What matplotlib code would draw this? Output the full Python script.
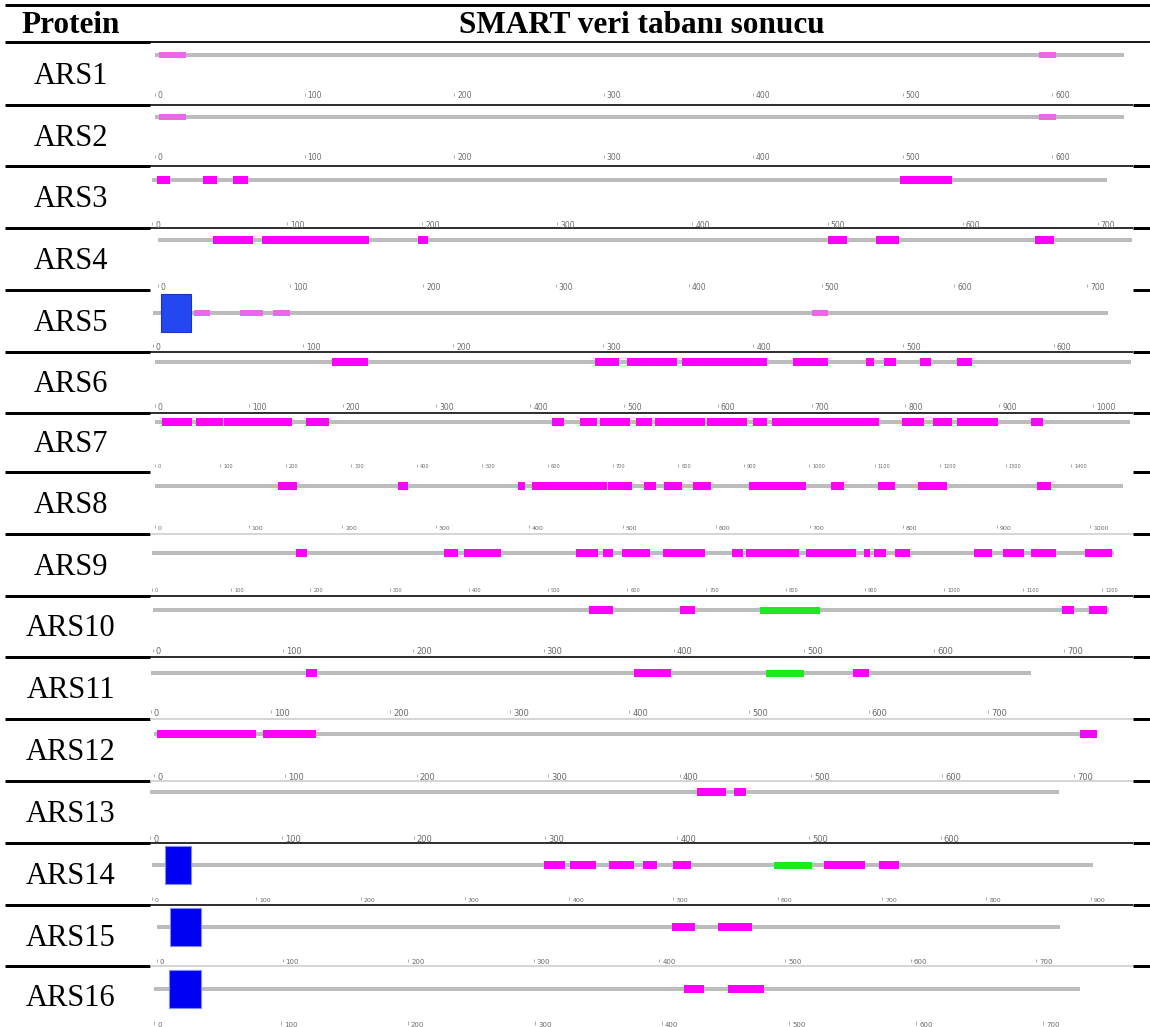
import matplotlib.pyplot as plt
from matplotlib.patches import Rectangle

# SMART domain results for the ARS proteins
proteins = ["ARS1", "ARS2", "ARS3", "ARS4", "ARS5", "ARS6", "ARS7", "ARS8",
            "ARS9", "ARS10", "ARS11", "ARS12", "ARS13", "ARS14", "ARS15", "ARS16"]

# protein length (aa)
lengths = [648, 648, 707, 734, 636, 1041, 1490, 1035,
           1215, 734, 736, 718, 690, 902, 719, 729]

# low complexity regions (start, end) in residues
low_complexity = [
    [(3, 21), (591, 603)],
    [(3, 21), (591, 603)],
    [(4, 13), (38, 48), (60, 71), (554, 592)],
    [(42, 72), (79, 159), (196, 204), (505, 519), (541, 558), (661, 675)],
    [(27, 38), (58, 73), (80, 91), (439, 450)],
    [(189, 227), (469, 495), (503, 556), (562, 652), (680, 717), (758, 767),
     (777, 790), (816, 827), (855, 871)],
    [(11, 57), (63, 104), (105, 209), (231, 266), (607, 625), (650, 676),
     (680, 726), (735, 760), (764, 841), (844, 905), (914, 935), (943, 1107),
     (1142, 1175), (1189, 1218), (1226, 1288), (1339, 1357)],
    [(132, 152), (260, 271), (388, 396), (403, 483), (485, 510), (523, 536),
     (544, 564), (575, 595), (635, 696), (723, 737), (773, 791), (816, 847),
     (943, 958)],
    [(182, 196), (369, 386), (394, 441), (535, 563), (569, 582), (593, 629),
     (645, 698), (732, 746), (750, 817), (826, 889), (899, 907), (912, 927),
     (938, 957), (1038, 1061), (1074, 1101), (1110, 1141), (1178, 1212)],
    [(335, 353), (405, 416), (698, 707), (719, 733)],
    [(130, 139), (404, 435), (587, 600)],
    [(2, 78), (83, 123), (705, 718)],
    [(415, 437), (443, 452)],
    [(376, 396), (401, 426), (438, 462), (471, 484), (500, 517), (644, 684),
     (697, 716)],
    [(410, 428), (447, 474)],
    [(417, 433), (452, 480)],
]

# coiled coil regions
coiled_coil = [[], [], [], [], [], [], [], [], [],
               [(466, 512)], [(514, 546)], [], [], [(596, 633)], [], []]

# transmembrane segments
transmembrane = [[], [], [], [], [(5, 25)], [], [], [], [], [], [], [], [],
                 [(12, 37)], [(10, 35)], [(12, 37)]]

# ---- layout (pixels of the 1150x1027 picture) ----
W, H = 1150, 1027
line_y = [55, 117, 180, 240, 313, 362, 422, 486, 553, 610, 673, 734, 792, 865, 927, 989]
label_y = [96, 158, 225, 287, 347, 408, 467, 528, 591, 652, 713, 777, 839, 900, 962, 1025]
zero_x = [155, 155, 152, 157.5, 153, 155, 155, 155, 152, 153, 151, 154, 150, 152, 157, 154]
px_per_res = [1.495, 1.495, 1.351, 1.328, 1.501, 0.938, 0.6543, 0.935,
              0.792, 1.302, 1.196, 1.314, 1.318, 1.043, 1.256, 1.27]
tick_size = [5.5, 5.5, 5.5, 5.5, 5.5, 5.5, 3.6, 4.5, 3.6, 6, 6, 6, 6, 4.5, 5, 5]
violet_rows = [0, 1, 4]
row_edges = [42, 105, 166, 228, 290, 352, 413, 472, 534, 596, 657, 719, 781,
             843, 905, 966, 1027]
mid_line = ["k", "k", "k", None, "k", "k", None, "#cccccc", "k", "k",
            "#cccccc", "#cccccc", "k", "k", "#cccccc"]

PX = 0.72  # points per pixel at dpi 100
serif = "Liberation Serif"

fig = plt.figure(figsize=(W / 100, H / 100), dpi=100)

# table frame and text
ax0 = fig.add_axes([0, 0, 1, 1])
ax0.set_xlim(0, W)
ax0.set_ylim(H, 0)
ax0.axis("off")

ax0.plot([5, W], [5, 5], color="k", lw=3 * PX, solid_capstyle="butt")
ax0.plot([5, 150], [42, 42], color="k", lw=3 * PX, solid_capstyle="butt")
ax0.plot([150, W], [42, 42], color="k", lw=1.8 * PX, solid_capstyle="butt")
for y, c in zip(row_edges[1:-1], mid_line):
    ax0.plot([5, 150], [y, y], color="k", lw=3 * PX, solid_capstyle="butt")
    if c is not None:
        ax0.plot([150, 1133], [y, y], color=c, lw=1.6 * PX, solid_capstyle="butt")
    ax0.plot([1133, W], [y, y], color="k", lw=3 * PX, solid_capstyle="butt")

ax0.text(71, 25.5, "Protein", family=serif, weight="bold", fontsize=22.5,
         ha="center", va="center")
ax0.text(642, 25.5, "SMART veri tabanı sonucu", family=serif, weight="bold",
         fontsize=22.5, ha="center", va="center")

for i, name in enumerate(proteins):
    yc = (row_edges[i] + row_edges[i + 1]) / 2 + 2.5
    ax0.text(71, yc, name, family=serif, fontsize=22, ha="center", va="center")

# one axes per protein, x in residues
left, right = 150, 1135
for i in range(len(proteins)):
    top = line_y[i] - 26
    bot = label_y[i] + 8
    ax = fig.add_axes([left / W, 1 - bot / H, (right - left) / W, (bot - top) / H])
    ax.axis("off")
    s = px_per_res[i]
    ax.set_xlim((left - zero_x[i]) / s, (right - zero_x[i]) / s)
    ax.set_ylim(bot - line_y[i], top - line_y[i])

    L = lengths[i]
    ax.plot([0, L], [0, 0], color="#bcbcbc", lw=4 * PX, solid_capstyle="butt",
            zorder=1)

    if i in violet_rows:
        col, hh = "#ec66ec", 6 if i < 2 else 5.5
    else:
        col, hh = "#ff00ff", 8
    ax.broken_barh([(a, b - a) for a, b in low_complexity[i]], (-hh / 2, hh),
                   facecolors=col, edgecolor="none", zorder=2)
    ax.broken_barh([(a, b - a) for a, b in coiled_coil[i]], (-3.5, 7),
                   facecolors="#1ee81e", edgecolor="none", zorder=2)
    for a, b in transmembrane[i]:
        fc, ec = ("#2347f0", "#1a34c0") if i == 4 else ("#0000f2", "#7f8cff")
        ax.add_patch(Rectangle((a, -19), b - a, 38, facecolor=fc, edgecolor=ec,
                               lw=0.8, zorder=3))

    # scale ticks
    ty = label_y[i] - line_y[i]
    ticks = list(range(0, L, 100))
    ax.vlines(ticks, ty - 3.5, ty - 0.5, color="#a0a0a0", lw=0.6)
    for t in ticks:
        ax.text(t + 3 / s, ty, str(t), fontsize=tick_size[i], color="#6a6a6a",
                ha="left", va="center", clip_on=False)

fig.savefig("out.png", dpi=100)
